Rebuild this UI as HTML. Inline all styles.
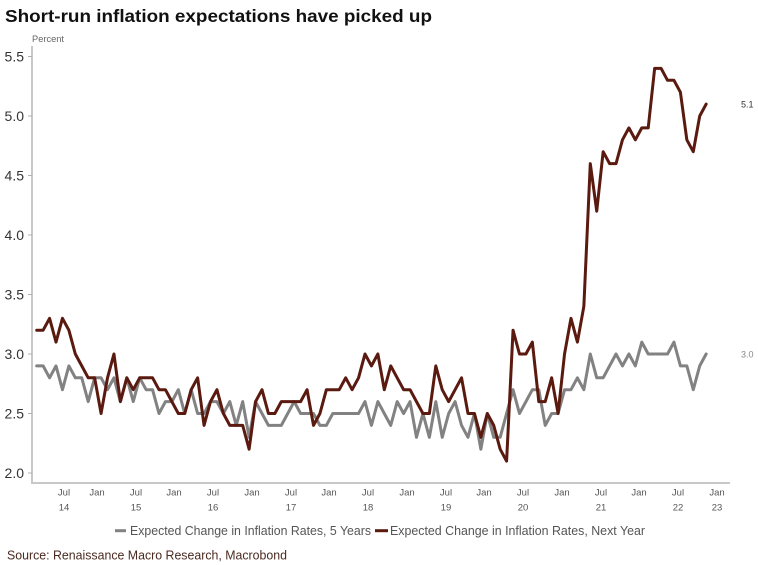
<!DOCTYPE html>
<html>
<head>
<meta charset="utf-8">
<style>
  html, body { margin: 0; padding: 0; background: #ffffff; }
  svg { display: block; }
  text { font-family: "Liberation Sans", sans-serif; }
</style>
</head>
<body>
<svg width="758" height="565" viewBox="0 0 758 565" xmlns="http://www.w3.org/2000/svg">
  <rect x="0" y="0" width="758" height="565" fill="#ffffff"/>

  <!-- Title -->
  <text x="5" y="22" font-size="17.5" font-weight="bold" fill="#111" textLength="427" lengthAdjust="spacingAndGlyphs">Short-run inflation expectations have picked up</text>

  <!-- Percent -->
  <text x="32" y="42" font-size="9" fill="#666" textLength="32" lengthAdjust="spacingAndGlyphs">Percent</text>

  <!-- Axes -->
  <line x1="32" y1="46" x2="32" y2="484" stroke="#c8c8c8" stroke-width="2"/>
  <line x1="31" y1="483" x2="730" y2="483" stroke="#c8c8c8" stroke-width="2"/>

  <!-- Y ticks -->
  <g stroke="#b0b0b0" stroke-width="1">
    <line x1="28" y1="56.5" x2="32" y2="56.5"/>
    <line x1="28" y1="116" x2="32" y2="116"/>
    <line x1="28" y1="175.5" x2="32" y2="175.5"/>
    <line x1="28" y1="235" x2="32" y2="235"/>
    <line x1="28" y1="294.5" x2="32" y2="294.5"/>
    <line x1="28" y1="354" x2="32" y2="354"/>
    <line x1="28" y1="413.5" x2="32" y2="413.5"/>
    <line x1="28" y1="473" x2="32" y2="473"/>
  </g>
  <g font-size="14" fill="#333" text-anchor="end">
    <text x="24" y="61.5">5.5</text>
    <text x="24" y="121">5.0</text>
    <text x="24" y="180.5">4.5</text>
    <text x="24" y="240">4.0</text>
    <text x="24" y="299.5">3.5</text>
    <text x="24" y="359">3.0</text>
    <text x="24" y="418.5">2.5</text>
    <text x="24" y="478">2.0</text>
  </g>

  <!-- X labels -->
  <g font-size="9.5" fill="#555" text-anchor="middle">
    <text x="64" y="495.5">Jul</text>
    <text x="97" y="495.5">Jan</text>
    <text x="136" y="495.5">Jul</text>
    <text x="174" y="495.5">Jan</text>
    <text x="213" y="495.5">Jul</text>
    <text x="252" y="495.5">Jan</text>
    <text x="291" y="495.5">Jul</text>
    <text x="329" y="495.5">Jan</text>
    <text x="368" y="495.5">Jul</text>
    <text x="407" y="495.5">Jan</text>
    <text x="446" y="495.5">Jul</text>
    <text x="484" y="495.5">Jan</text>
    <text x="523" y="495.5">Jul</text>
    <text x="562" y="495.5">Jan</text>
    <text x="601" y="495.5">Jul</text>
    <text x="639" y="495.5">Jan</text>
    <text x="678" y="495.5">Jul</text>
    <text x="717" y="495.5">Jan</text>

    <text x="64" y="510.5">14</text>
    <text x="136" y="510.5">15</text>
    <text x="213" y="510.5">16</text>
    <text x="291" y="510.5">17</text>
    <text x="368" y="510.5">18</text>
    <text x="446" y="510.5">19</text>
    <text x="523" y="510.5">20</text>
    <text x="601" y="510.5">21</text>
    <text x="678" y="510.5">22</text>
    <text x="717" y="510.5">23</text>
  </g>

  <!-- Series -->
  <g transform="translate(36.7,473) scale(6.437,-119)">
    <polyline fill="none" stroke="#828282" stroke-width="3" stroke-linejoin="round" stroke-linecap="round" vector-effect="non-scaling-stroke"
      points="0,.9 1,.9 2,.8 3,.9 4,.7 5,.9 6,.8 7,.8 8,.6 9,.8 10,.8 11,.7 12,.8 13,.6 14,.8 15,.6 16,.8 17,.7 18,.7 19,.5 20,.6 21,.6 22,.7 23,.5 24,.7 25,.5 26,.5 27,.6 28,.6 29,.5 30,.6 31,.4 32,.6 33,.3 34,.6 35,.5 36,.4 37,.4 38,.4 39,.5 40,.6 41,.5 42,.5 43,.5 44,.4 45,.4 46,.5 47,.5 48,.5 49,.5 50,.5 51,.6 52,.4 53,.6 54,.5 55,.4 56,.6 57,.5 58,.6 59,.3 60,.5 61,.3 62,.6 63,.3 64,.5 65,.6 66,.4 67,.3 68,.5 69,.2 70,.5 71,.3 72,.3 73,.5 74,.7 75,.5 76,.6 77,.7 78,.7 79,.4 80,.5 81,.5 82,.7 83,.7 84,.8 85,.7 86,1.0 87,.8 88,.8 89,.9 90,1.0 91,.9 92,1.0 93,.9 94,1.1 95,1.0 96,1.0 97,1.0 98,1.0 99,1.1 100,.9 101,.9 102,.7 103,.9 104,1.0"/>
    <polyline fill="none" stroke="#5a1a10" stroke-width="3" stroke-linejoin="round" stroke-linecap="round" vector-effect="non-scaling-stroke"
      points="0,1.2 1,1.2 2,1.3 3,1.1 4,1.3 5,1.2 6,1.0 7,.9 8,.8 9,.8 10,.5 11,.8 12,1.0 13,.6 14,.8 15,.7 16,.8 17,.8 18,.8 19,.7 20,.7 21,.6 22,.5 23,.5 24,.7 25,.8 26,.4 27,.6 28,.7 29,.5 30,.4 31,.4 32,.4 33,.2 34,.6 35,.7 36,.5 37,.5 38,.6 39,.6 40,.6 41,.6 42,.7 43,.4 44,.5 45,.7 46,.7 47,.7 48,.8 49,.7 50,.8 51,1.0 52,.9 53,1.0 54,.7 55,.9 56,.8 57,.7 58,.7 59,.6 60,.5 61,.5 62,.9 63,.7 64,.6 65,.7 66,.8 67,.5 68,.5 69,.3 70,.5 71,.4 72,.2 73,.1 74,1.2 75,1.0 76,1.0 77,1.1 78,.6 79,.6 80,.8 81,.5 82,1.0 83,1.3 84,1.1 85,1.4 86,2.6 87,2.2 88,2.7 89,2.6 90,2.6 91,2.8 92,2.9 93,2.8 94,2.9 95,2.9 96,3.4 97,3.4 98,3.3 99,3.3 100,3.2 101,2.8 102,2.7 103,3.0 104,3.1"/>
  </g>

  <!-- End value labels -->
  <text x="741" y="107.5" font-size="9" fill="#333">5.1</text>
  <text x="741" y="357.5" font-size="9" fill="#888">3.0</text>

  <!-- Legend -->
  <line x1="115" y1="530.7" x2="126" y2="530.7" stroke="#828282" stroke-width="3"/>
  <text x="130" y="535" font-size="12.5" fill="#555" textLength="241" lengthAdjust="spacingAndGlyphs">Expected Change in Inflation Rates, 5 Years</text>
  <line x1="375" y1="530.7" x2="388" y2="530.7" stroke="#5a1a10" stroke-width="3"/>
  <text x="390" y="535" font-size="12.5" fill="#555" textLength="255" lengthAdjust="spacingAndGlyphs">Expected Change in Inflation Rates, Next Year</text>

  <!-- Source -->
  <text x="7" y="559.5" font-size="13" fill="#4a2a20" textLength="280" lengthAdjust="spacingAndGlyphs">Source: Renaissance Macro Research, Macrobond</text>
</svg>
</body>
</html>
